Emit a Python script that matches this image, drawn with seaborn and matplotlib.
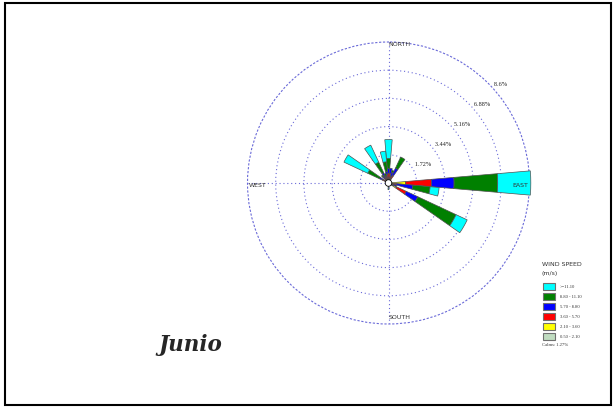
import numpy as np
import matplotlib
matplotlib.use("Agg")
import matplotlib.pyplot as plt
import seaborn as sns
from matplotlib.patches import Rectangle

sns.set_style("white")
plt.rcParams['font.family'] = ['DejaVu Sans']

# --- data: wind frequency (%) per direction, one list per speed class ---
directions = [0, 10, 20, 30, 90, 100, 110, 120, 180, 300, 320, 330, 340, 350]
speed_050_210 = [0.15, 0.10, 0.10, 0.15, 0.20, 0.10, 0.10, 0.25, 0.10, 0.12, 0.10, 0.15, 0.10, 0.15]
speed_210_360 = [0.15, 0.15, 0.10, 0.15, 0.85, 0.15, 0.10, 0.30, 0.00, 0.13, 0.10, 0.15, 0.10, 0.15]
speed_360_570 = [0.30, 0.35, 0.20, 0.20, 1.57, 0.25, 0.15, 0.65, 0.00, 0.15, 0.15, 0.15, 0.15, 0.20]
speed_570_880 = [0.30, 0.30, 0.30, 0.50, 1.38, 1.00, 0.15, 0.78, 0.00, 0.20, 0.15, 0.25, 0.10, 0.20]
speed_880_1110 = [0.60, 0.00, 0.10, 0.75, 2.66, 1.05, 0.00, 2.57, 0.00, 0.80, 0.10, 0.70, 0.15, 0.60]
speed_1110_up = [1.15, 0.00, 0.00, 0.00, 2.02, 0.55, 0.00, 0.75, 0.30, 1.60, 0.00, 1.15, 0.00, 0.65]

class_labels = ["0.50 - 2.10", "2.10 - 3.60", "3.60 - 5.70", "5.70 - 8.80", "8.80 - 11.10", ">=11.10"]
class_colors = ["#c0dcc0", "#ffff00", "#ff0000", "#0000ff", "#008000", "#00ffff"]
ring_ticks = [1.72, 3.44, 5.16, 6.88, 8.6]
ring_labels = ["1.72%", "3.44%", "5.16%", "6.88%", "8.6%"]
calms_pct = 1.27
month = "Junio"

series = [speed_050_210, speed_210_360, speed_360_570,
          speed_570_880, speed_880_1110, speed_1110_up]

W, H = 613, 407
grid_col = "#6a6ad8"


def fx(px):
    return px / W


def fy(py):
    return 1 - py / H


fig = plt.figure(figsize=(W / 100, H / 100), dpi=100)

# --- rose ---
ax = fig.add_axes([fx(388.5 - 141), fy(183 + 141), 282 / W, 282 / H], projection='polar')
ax.set_theta_zero_location('N')
ax.set_theta_direction(-1)

theta = np.deg2rad(directions)
bottom = np.zeros(len(directions))
for vals, col in zip(series, class_colors):
    vals = np.array(vals)
    m = vals > 0
    ax.bar(theta[m], vals[m], width=np.deg2rad(9.8), bottom=bottom[m], color=col,
           edgecolor='#505050', linewidth=0.5, clip_on=False, zorder=3)
    bottom += vals

ax.set_ylim(0, ring_ticks[-1])
ax.set_rticks(ring_ticks[:-1])
ax.set_yticklabels([])
ax.set_xticks(np.deg2rad([0, 90, 180, 270]))
ax.set_xticklabels([])
ax.grid(color=grid_col, linestyle=(0, (1, 2.5)), linewidth=0.8)
ax.spines['polar'].set_color(grid_col)
ax.spines['polar'].set_linestyle((0, (1, 2.5)))
ax.spines['polar'].set_linewidth(0.8)
ax.set_facecolor('white')

# calms circle
t = np.linspace(0, 2 * np.pi, 100)
ax.fill(t, np.full_like(t, 0.2), facecolor='white', edgecolor='black', linewidth=0.6, zorder=5)

# ring labels
for r, lab in zip(ring_ticks, ring_labels):
    ax.text(np.deg2rad(45), r + 0.1, "   " + lab, ha='left', va='top', fontsize=4.5,
            family='Liberation Serif', color='#222222', zorder=6)

# compass labels
cfont = dict(fontsize=4.5, color='#333333', zorder=6)
ax.text(0, 8.45, "NORTH", ha='left', va='center', **cfont)
ax.text(np.deg2rad(90), 8.5, "EAST", ha='right', va='top', **cfont)
ax.text(np.deg2rad(270), 8.5, "WEST", ha='left', va='top', **cfont)
ax.text(np.deg2rad(180), 8.2, "SOUTH", ha='left', va='center', **cfont)

# --- legend ---
fig.text(fx(542), fy(265), "WIND SPEED", fontsize=4.5, color='#333333', va='center')
fig.text(fx(542), fy(273), "(m/s)", fontsize=4.5, color='#333333', va='center')
for i, (lab, col) in enumerate(zip(class_labels[::-1], class_colors[::-1])):
    top = 283.3 + i * 10
    fig.patches.append(Rectangle((fx(543), fy(top + 7)), 12 / W, 7 / H, transform=fig.transFigure,
                                 facecolor=col, edgecolor='#707070', linewidth=0.8))
    fig.text(fx(560), fy(top + 3.5), lab, fontsize=3.3, color='#333333', va='center',
             family='Liberation Serif')
fig.text(fx(542), fy(344.5), f"Calms: {calms_pct:.2f}%", fontsize=3.3, color='#333333',
         va='center', family='Liberation Serif')

# month title
fig.text(fx(190), fy(345), month, fontsize=15.5, fontweight='bold', fontstyle='italic',
         family='DejaVu Serif', ha='center', va='center')

# frame
fig.patches.append(Rectangle((fx(5), fy(405)), 606 / W, 402 / H, transform=fig.transFigure,
                             fill=False, edgecolor='black', linewidth=1.5))

fig.savefig("out.png", dpi=100)
